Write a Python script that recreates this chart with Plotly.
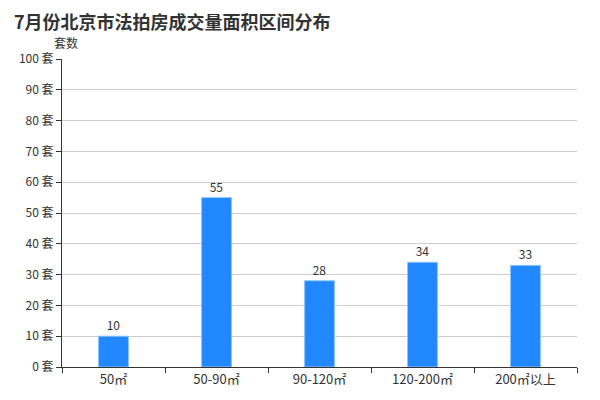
import plotly.graph_objects as go

categories = ["50㎡", "50-90㎡", "90-120㎡", "120-200㎡", "200㎡以上"]
values = [10, 55, 28, 34, 33]

font = "Noto Sans CJK SC"

fig = go.Figure(go.Bar(
    x=categories, y=values, width=0.29,
    marker=dict(color="#2288ff", line=dict(color="#8fc4ff", width=1)),
    text=values, textposition="outside",
    textfont=dict(size=12, color="#333", family=font),
    cliponaxis=False,
))

# page body has an 8px margin, so margins compensate
fig.update_layout(
    width=600, height=400,
    margin=dict(l=54, r=31, t=51, b=41),
    plot_bgcolor="white", paper_bgcolor="white",
    showlegend=False,
    font=dict(family=font, size=12, color="#333"),
    xaxis=dict(
        type="category", tickson="boundaries", ticks="outside", ticklen=5,
        tickcolor="#333", showline=True, linecolor="#333", linewidth=1,
        showgrid=False, tickfont=dict(size=13, color="#333"),
    ),
    yaxis=dict(
        range=[0, 100], dtick=10, ticksuffix=" 套", ticks="outside", ticklen=5,
        tickcolor="#333", showline=True, linecolor="#333", linewidth=1,
        showgrid=True, gridcolor="#cccccc", zeroline=False,
        tickfont=dict(size=12, color="#333"),
    ),
    annotations=[
        dict(text="<b>7月份北京市法拍房成交量面积区间分布</b>", xref="paper", yref="paper",
             x=-50 / 515, y=1 + 38 / 308, xanchor="left", yanchor="middle", showarrow=False,
             font=dict(size=18, color="#333", family=font)),
        dict(text="套数", xref="paper", yref="paper", x=-10 / 515, y=1 + 16 / 308,
             xanchor="left", yanchor="middle", showarrow=False,
             font=dict(size=12, color="#333")),
    ],
)

fig.write_html("out.html")
